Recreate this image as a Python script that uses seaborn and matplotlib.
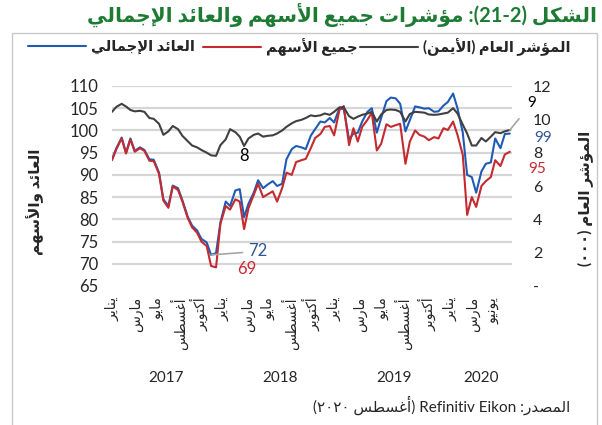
import matplotlib
matplotlib.use("Agg")
import matplotlib.pyplot as plt
import matplotlib.transforms as mtransforms
from matplotlib.patches import Rectangle
import pandas as pd
import seaborn as sns

# ---- data (semi-monthly) ----
general_index = [  # thousands, right axis
    10.45, 10.75, 10.93, 10.77, 10.56, 10.48, 10.51, 10.45, 10.08, 10.03,
    9.73, 9.07, 9.28, 9.60, 9.41, 9.01, 8.69, 8.43, 8.32, 8.16,
    8.00, 7.84, 7.81, 8.45, 8.80, 9.41, 9.23, 8.96, 8.40, 8.85,
    9.07, 9.15, 8.96, 9.01, 9.04, 9.15, 9.33, 9.55, 9.76, 9.89,
    9.97, 10.08, 10.24, 10.19, 10.24, 10.35, 10.27, 10.45, 10.72, 10.72,
    10.19, 10.03, 10.16, 10.27, 10.35, 10.45, 9.87, 10.29, 10.56, 10.59,
    10.56, 10.45, 9.87, 10.32, 10.45, 10.43, 10.40, 10.29, 10.27, 10.29,
    10.35, 10.40, 10.67, 10.35, 9.68, 9.15, 8.43, 8.43, 8.88, 8.67,
    8.96, 9.23, 9.17, 9.28, 9.36,
]
total_return = [
    93.5, 96.0, 98.4, 95.0, 98.2, 95.4, 96.2, 95.6, 93.5, 93.4,
    90.5, 84.5, 83.0, 87.6, 87.0, 84.3, 80.6, 78.6, 77.5, 75.6,
    74.8, 72.0, 72.4, 79.3, 84.0, 83.0, 86.5, 86.8, 80.5, 83.5,
    86.0, 88.8, 87.0, 87.8, 88.6, 87.5, 88.0, 93.5, 95.8, 96.5,
    96.2, 95.8, 98.8, 100.3, 102.0, 101.8, 102.8, 101.8, 105.0, 104.8,
    98.0, 99.3, 99.5, 102.0, 104.2, 105.0, 99.5, 102.8, 106.6, 107.4,
    107.2, 106.0, 99.8, 102.3, 105.4, 105.2, 104.9, 105.0, 104.2, 104.3,
    105.6, 106.4, 108.3, 105.0, 99.5, 90.0, 89.5, 86.0, 90.8, 92.5,
    92.8, 98.2, 96.0, 99.2, 99.3,
]
all_shares = [
    93.3, 95.8, 98.2, 94.8, 98.0, 95.2, 96.0, 95.4, 93.2, 93.1,
    90.2, 84.2, 82.6, 87.4, 86.6, 84.0, 80.3, 78.2, 77.0, 75.0,
    74.0, 69.5, 69.2, 79.0, 83.0, 82.2, 84.5, 84.0, 77.8, 82.5,
    85.5, 88.0, 85.0, 85.6, 86.3, 84.0, 87.0, 90.5, 90.0, 92.9,
    93.3, 93.6, 96.0, 98.3, 99.2, 100.8, 101.0, 98.9, 104.6, 105.5,
    96.7, 100.5, 97.5, 100.8, 102.4, 104.0, 95.5, 97.0, 101.4, 100.8,
    101.2, 101.5, 92.5, 97.5, 100.0, 99.0, 98.6, 97.8, 98.5, 98.2,
    100.5, 100.1, 102.0, 99.0, 94.5, 81.0, 85.0, 82.8, 87.5, 88.6,
    89.5, 93.3, 92.0, 94.6, 95.2,
]
month_names = ["يناير", "مارس", "مايو", "أغسطس", "أكتوبر"] * 3 + ["يناير", "مارس", "يونيو"]
tick_dates = ["2017-01-01", "2017-03-19", "2017-05-28", "2017-08-04", "2017-10-10",
              "2017-12-22", "2018-03-13", "2018-05-19", "2018-07-25", "2018-10-04",
              "2018-12-16", "2019-03-07", "2019-05-19", "2019-07-25", "2019-10-10",
              "2019-12-22", "2020-03-04", "2020-05-10"]
years = [2017, 2018, 2019, 2020]
series_names = ["العائد الإجمالي", "جميع الأسهم", "المؤشر العام (الأيمن)"]

BLUE = "#1F5BB5"
RED = "#C42A30"
GRAY = "#404040"

# ---- minimal arabic shaping (matplotlib has no bidi/shaping) ----
AR_BASE = {'ء': (0xFE80, 1), 'آ': (0xFE81, 2), 'أ': (0xFE83, 2), 'ؤ': (0xFE85, 2), 'إ': (0xFE87, 2),
           'ئ': (0xFE89, 4), 'ا': (0xFE8D, 2), 'ب': (0xFE8F, 4), 'ة': (0xFE93, 2), 'ت': (0xFE95, 4),
           'ث': (0xFE99, 4), 'ج': (0xFE9D, 4), 'ح': (0xFEA1, 4), 'خ': (0xFEA5, 4), 'د': (0xFEA9, 2),
           'ذ': (0xFEAB, 2), 'ر': (0xFEAD, 2), 'ز': (0xFEAF, 2), 'س': (0xFEB1, 4), 'ش': (0xFEB5, 4),
           'ص': (0xFEB9, 4), 'ض': (0xFEBD, 4), 'ط': (0xFEC1, 4), 'ظ': (0xFEC5, 4), 'ع': (0xFEC9, 4),
           'غ': (0xFECD, 4), 'ف': (0xFED1, 4), 'ق': (0xFED5, 4), 'ك': (0xFED9, 4), 'ل': (0xFEDD, 4),
           'م': (0xFEE1, 4), 'ن': (0xFEE5, 4), 'ه': (0xFEE9, 4), 'و': (0xFEED, 2), 'ى': (0xFEEF, 2),
           'ي': (0xFEF1, 4)}
LAM_ALEF = {'آ': 0xFEF5, 'أ': 0xFEF7, 'إ': 0xFEF9, 'ا': 0xFEFB}


def shape(s):
    items = []
    i = 0
    while i < len(s):
        if s[i] == 'ل' and i + 1 < len(s) and s[i + 1] in LAM_ALEF:
            items.append(('LA', s[i + 1]))
            i += 2
        else:
            items.append(('C', s[i]))
            i += 1

    def joins_next(it):
        return it[0] == 'C' and it[1] in AR_BASE and AR_BASE[it[1]][1] == 4

    def joins_prev(it):
        return it[0] == 'LA' or (it[1] in AR_BASE and AR_BASE[it[1]][1] >= 2)

    out = []
    for k, it in enumerate(items):
        p = k > 0 and joins_next(items[k - 1]) and joins_prev(it)
        n = k + 1 < len(items) and joins_next(it) and joins_prev(items[k + 1])
        kind, c = it
        if kind == 'LA':
            out.append(chr(LAM_ALEF[c] + (1 if p else 0)))
        elif c in AR_BASE:
            base, cnt = AR_BASE[c]
            if cnt == 1:
                off = 0
            elif cnt == 2:
                off = 1 if p else 0
            else:
                off = (3 if n else 1) if p else (2 if n else 0)
            out.append(chr(base + off))
        else:
            out.append(c)
    return ''.join(out)


def ar(s):
    v = shape(s)[::-1]
    return v.translate(str.maketrans("()", ")("))


# ---- plot ----
sns.set_theme(style="white")
plt.rcParams["font.family"] = ["Lato", "DejaVu Sans"]

dates = pd.date_range("2017-01-01", periods=len(total_return), freq="SMS")
df = pd.DataFrame({"date": dates, "total": total_return,
                   "shares": all_shares, "general": general_index})

fig = plt.figure(figsize=(6.02, 4.25), dpi=100)
ax = fig.add_axes([112 / 602, 1 - 286 / 425, 400 / 602, 200 / 425])
ax2 = ax.twinx()

sns.lineplot(data=df, x="date", y="total", ax=ax, color=BLUE, lw=1.5)
sns.lineplot(data=df, x="date", y="shares", ax=ax, color=RED, lw=1.5)
sns.lineplot(data=df, x="date", y="general", ax=ax2, color=GRAY, lw=1.5)

ax.set_ylim(65, 110)
ax.set_yticks(range(65, 111, 5))
ax2.set_ylim(0, 12)
ax2.set_yticks(range(0, 13, 2))
ax2.set_yticklabels(["-"] + [str(v) for v in range(2, 13, 2)])
ax.set_xlim(dates[0], pd.Timestamp("2020-07-08"))
ax.set_xticks(pd.to_datetime(tick_dates))
ax.set_xticklabels([ar(m) for m in month_names], rotation=90, fontsize=10)

ax.yaxis.grid(True, color="#D6D6D6", lw=1.6)
ax.get_ygridlines()[0].set_visible(False)
ax.xaxis.grid(False)
ax.set_axisbelow(True)
for a in (ax, ax2):
    for sp in a.spines.values():
        sp.set_visible(False)
    a.set_xlabel("")
    a.set_ylabel("")
ax.tick_params(axis="y", length=0, pad=10, labelsize=12)
ax.tick_params(axis="x", length=0, pad=8)
ax2.tick_params(axis="y", length=0, pad=15, labelsize=11.5)

# year labels under each year's months
trans = mtransforms.blended_transform_factory(ax.transData, ax.transAxes)
for y in years:
    yd = dates[dates.year == y]
    mid = yd[0] + (yd[-1] - yd[0]) / 2
    ax.text(mid, -0.46, str(y), transform=trans, ha="center", va="center", fontsize=11)

# data labels
i_min_b = int(pd.Series(total_return).idxmin())
i_min_r = int(pd.Series(all_shares).idxmin())
ax.annotate(f"{total_return[i_min_b]:.0f}", xy=(dates[i_min_b], total_return[i_min_b]),
            xytext=(27, 2.5), textcoords="offset points", ha="left", va="center",
            color="#2F5597", fontsize=12,
            arrowprops=dict(arrowstyle="-", color="#A6A6A6", lw=1.2, shrinkA=2, shrinkB=0))
ax.annotate(f"{all_shares[i_min_r]:.0f}", xy=(dates[i_min_r], all_shares[i_min_r]),
            xytext=(15, -1.5), textcoords="offset points", ha="left", va="center",
            color=RED, fontsize=12)
i8 = 28
ax2.annotate(f"{general_index[i8]:.0f}", xy=(dates[i8], general_index[i8]),
             xytext=(0, -7), textcoords="offset points", ha="center", va="center",
             color="black", fontsize=12)
ax2.annotate(f"{general_index[-1]:.0f}", xy=(dates[-1], general_index[-1]),
             xytext=(16, 19.5), textcoords="offset points", ha="center", va="center",
             color="black", fontsize=11, annotation_clip=False,
             arrowprops=dict(arrowstyle="-", color="#A6A6A6", lw=1.2, shrinkA=6, shrinkB=0))
ax.annotate(f"{total_return[-1]:.0f}", xy=(dates[-1], total_return[-1]),
            xytext=(24, -3), textcoords="offset points", ha="center", va="center",
            color="#2F5597", fontsize=11, annotation_clip=False)
ax.annotate(f"{all_shares[-1]:.0f}", xy=(dates[-1], all_shares[-1]),
            xytext=(19.5, -12.5), textcoords="offset points", ha="center", va="center",
            color=RED, fontsize=11, annotation_clip=False)

# axis titles
fig.text(35 / 602, 1 - 202 / 425, ar("العائد والأسهم"), rotation=90,
         ha="center", va="center", fontsize=11, weight="bold")
fig.text(585 / 602, 1 - 198 / 425, ar("المؤشر العام (٠٠٠)"), rotation=90,
         ha="center", va="center", fontsize=11, weight="bold")

# legend: one entry per series, placed like the reference row
handles = [ax.get_lines()[0], ax.get_lines()[1], ax2.get_lines()[0]]
starts = [28, 203, 360]
for h, name, x0 in zip(handles, series_names, starts):
    fig.legend([h], [ar(name)], loc="center left", bbox_to_anchor=(x0 / 602, 1 - 47 / 425),
               frameon=False, prop=dict(weight="bold", size=10.5), handlelength=4.0,
               handletextpad=0.35, borderpad=0, borderaxespad=0)
if ax.get_legend():
    ax.get_legend().remove()

# title
title = ar("مؤشرات جميع الأسهم والعائد الإجمالي") + " :(21-2) " + ar("الشكل")
fig.text(342 / 602, 1 - 15 / 425, title, ha="center", va="center",
         fontsize=14.5, weight="bold", color="#1E7B34")

# source
src = "(٢٠٢٠ " + ar("أغسطس") + ") Refinitiv Eikon :" + ar("المصدر")
fig.text(570 / 602, 1 - 405 / 425, src, ha="right", va="center", fontsize=11)

# frame
fig.add_artist(Rectangle((12 / 602, -0.02), 585 / 602, 1 - 33 / 425 + 0.02,
                         transform=fig.transFigure, fill=False, ec="#C8C8C8", lw=1))

fig.savefig("out.png", dpi=100)
